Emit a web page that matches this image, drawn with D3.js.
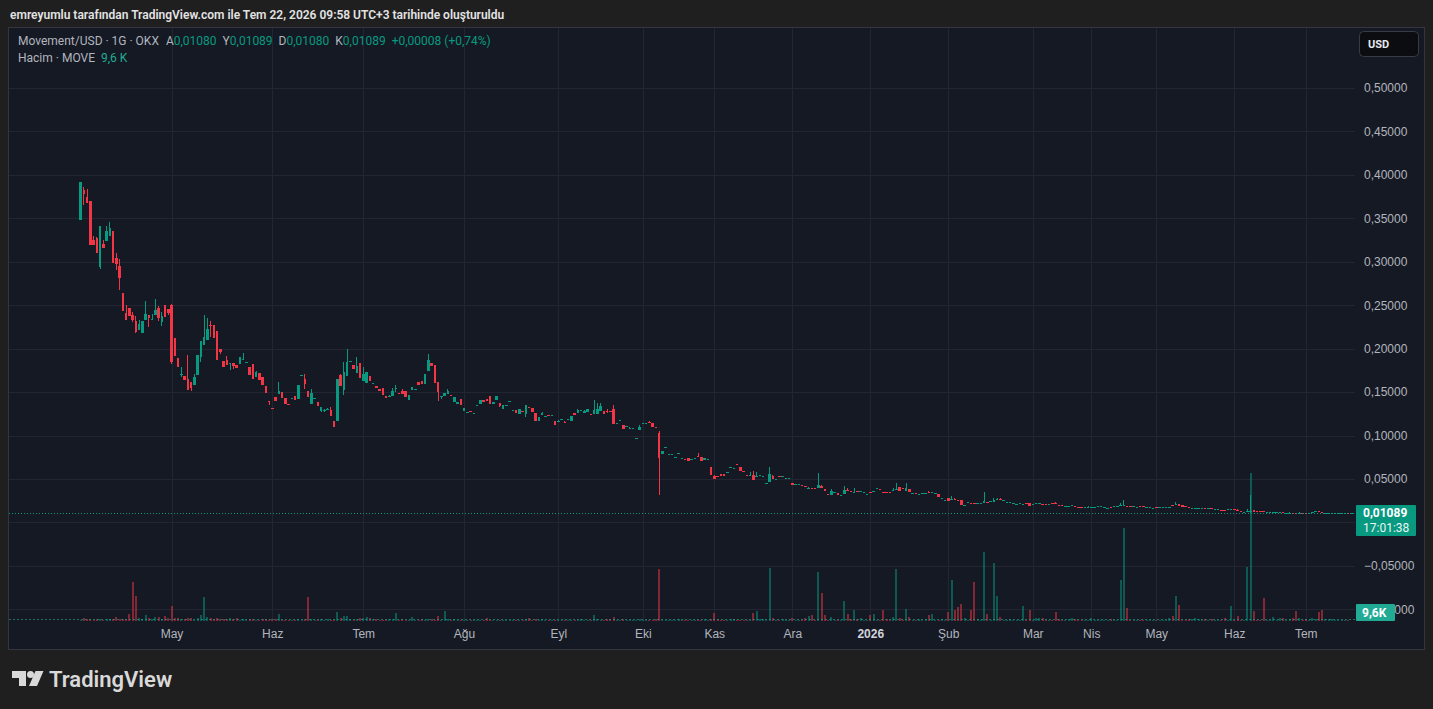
<!DOCTYPE html>
<html>
<head>
<meta charset="utf-8">
<script src="https://cdn.jsdelivr.net/npm/d3@7"></script>
<style>
  body { margin: 0; background: #1f1f1f; }
  svg { display: block; font-family: Roboto, "Liberation Sans", sans-serif; }
</style>
</head>
<body>
<svg id="chart" width="1433" height="709"></svg>
<script>
// header texts
const TITLE = 'emreyumlu tarafından TradingView.com ile Tem 22, 2026 09:58 UTC+3 tarihinde oluşturuldu';
const SYMBOL = 'Movement/USD · 1G · OKX';
const VOLUME_NAME = 'Hacim · MOVE';
const COUNTDOWN = '17:01:38';

// x axis: month labels and the bar they start on
const monthLabels = ['May', 'Haz', 'Tem', 'Ağu', 'Eyl', 'Eki', 'Kas', 'Ara', '2026', 'Şub', 'Mar', 'Nis', 'May', 'Haz', 'Tem'];
const monthBars = [28, 59, 87, 118, 147, 173, 195, 219, 243, 267, 293, 311, 331, 355, 377];

// y axis ticks (USD)
const priceTicks = [-0.10, -0.05, 0, 0.05, 0.10, 0.15, 0.20, 0.25, 0.30, 0.35, 0.40, 0.45, 0.50];

// daily candles, USD
const opens = [
  .3480,.3825,.3745,.3699,.3250,.3273,.2939,.3204,.3239,.3296,
  .3354,.3043,.2951,.2640,.2410,.2468,.2387,.2318,.2215,.2180,
  .2330,.2387,.2341,.2387,.2468,.2307,.2502,.2456,.2502,.2122,
  .1892,.1708,.1685,.1651,.1616,.1582,.1697,.1904,.2042,.2099,
  .2272,.2272,.2203,.1996,.1858,.1869,.1835,.1835,.1812,.1823,
  .1881,.1846,.1789,.1823,.1674,.1720,.1674,.1570,.1397,.1317,
  .1443,.1478,.1501,.1432,.1363,.1432,.1455,.1420,.1697,.1651,
  .1512,.1363,.1432,.1386,.1282,.1294,.1294,.1294,.1167,.1167,
  .1697,.1524,.1685,.1846,.1812,.1720,.1835,.1628,.1605,.1685,
  .1605,.1570,.1536,.1547,.1455,.1443,.1455,.1547,.1489,.1512,
  .1512,.1409,.1524,.1536,.1616,.1628,.1593,.1743,.1835,.1812,
  .1616,.1443,.1455,.1478,.1466,.1386,.1363,.1420,.1282,.1259,
  .1282,.1248,.1340,.1363,.1409,.1420,.1455,.1363,.1409,.1374,
  .1305,.1351,.1397,.1294,.1294,.1248,.1282,.1248,.1328,.1317,
  .1259,.1167,.1236,.1225,.1236,.1236,.1167,.1155,.1190,.1155,
  .1190,.1167,.1259,.1259,.1294,.1259,.1271,.1248,.1248,.1248,
  .1282,.1282,.1282,.1282,.1305,.1144,.1178,.1121,.1110,.1087,
  .1087,.0972,.1064,.1144,.1144,.1155,.1144,.1098,.1029,.0787,
  .0868,.0787,.0787,.0753,.0799,.0741,.0730,.0741,.0730,.0741,
  .0764,.0753,.0718,.0730,.0638,.0534,.0534,.0557,.0557,.0580,
  .0638,.0626,.0672,.0638,.0592,.0546,.0546,.0546,.0534,.0546,
  .0534,.0454,.0465,.0534,.0500,.0534,.0534,.0511,.0511,.0454,
  .0442,.0442,.0431,.0419,.0396,.0396,.0396,.0396,.0419,.0385,
  .0327,.0316,.0350,.0339,.0316,.0327,.0373,.0362,.0350,.0362,
  .0362,.0350,.0327,.0350,.0362,.0396,.0385,.0350,.0350,.0350,
  .0373,.0385,.0408,.0396,.0362,.0385,.0339,.0339,.0327,.0339,
  .0339,.0350,.0350,.0339,.0327,.0281,.0258,.0281,.0270,.0270,
  .0258,.0258,.0201,.0235,.0224,.0224,.0224,.0224,.0224,.0235,
  .0247,.0235,.0270,.0270,.0258,.0235,.0235,.0224,.0212,.0224,
  .0212,.0224,.0224,.0212,.0224,.0224,.0212,.0212,.0212,.0224,
  .0224,.0201,.0201,.0189,.0189,.0201,.0189,.0177,.0177,.0177,
  .0177,.0177,.0177,.0189,.0189,.0177,.0166,.0177,.0189,.0189,
  .0201,.0201,.0189,.0189,.0189,.0177,.0189,.0189,.0177,.0177,
  .0166,.0177,.0177,.0177,.0177,.0177,.0201,.0212,.0212,.0201,
  .0189,.0177,.0166,.0166,.0166,.0166,.0166,.0166,.0166,.0155,
  .0155,.0143,.0143,.0155,.0155,.0155,.0143,.0132,.0120,.0132,
  .0120,.0143,.0132,.0132,.0132,.0120,.0120,.0120,.0120,.0120,
  .0120,.0109,.0109,.0110,.0110,.0109,.0110,.0110,.0109,.0120,
  .0132,.0132,.0120,.0109,.0109,.0109,.0109,.0109,.0109,.0109,
  .0110,.01080
];
const highs = [
  .3917,.3860,.3837,.3699,.3296,.3285,.3411,.3250,.3411,.3457,
  .3354,.3101,.3031,.2640,.2502,.2468,.2422,.2376,.2330,.2318,
  .2548,.2387,.2399,.2571,.2491,.2422,.2502,.2456,.2514,.2122,
  .1892,.1789,.1685,.1927,.1616,.1708,.1927,.2088,.2387,.2353,
  .2318,.2272,.2203,.1996,.1858,.1915,.1836,.1835,.1812,.1904,
  .1950,.1847,.1789,.1823,.1743,.1720,.1674,.1570,.1397,.1317,
  .1443,.1616,.1501,.1432,.1363,.1433,.1455,.1582,.1698,.1708,
  .1512,.1536,.1433,.1386,.1328,.1305,.1317,.1328,.1167,.1651,
  .1708,.1846,.1996,.1858,.1812,.1904,.1835,.1789,.1731,.1685,
  .1606,.1570,.1536,.1547,.1455,.1466,.1547,.1582,.1489,.1536,
  .1512,.1466,.1559,.1537,.1616,.1628,.1708,.1938,.1835,.1812,
  .1616,.1455,.1489,.1536,.1466,.1443,.1386,.1420,.1317,.1271,
  .1282,.1259,.1351,.1409,.1409,.1420,.1455,.1386,.1455,.1374,
  .1351,.1352,.1398,.1295,.1294,.1305,.1282,.1351,.1328,.1317,
  .1259,.1213,.1271,.1226,.1236,.1237,.1167,.1178,.1191,.1167,
  .1191,.1225,.1259,.1305,.1295,.1294,.1305,.1248,.1409,.1374,
  .1374,.1282,.1305,.1282,.1351,.1145,.1179,.1121,.1111,.1098,
  .1088,.0973,.1121,.1145,.1145,.1167,.1144,.1098,.1052,.0822,
  .0869,.0788,.0788,.0754,.0800,.0742,.0730,.0741,.0731,.0742,
  .0799,.0753,.0741,.0731,.0638,.0546,.0534,.0557,.0557,.0581,
  .0639,.0627,.0672,.0638,.0592,.0546,.0580,.0592,.0580,.0547,
  .0535,.0455,.0638,.0546,.0501,.0534,.0535,.0512,.0512,.0454,
  .0443,.0443,.0431,.0419,.0408,.0396,.0396,.0569,.0431,.0385,
  .0327,.0385,.0351,.0339,.0317,.0419,.0396,.0362,.0396,.0362,
  .0363,.0351,.0328,.0350,.0363,.0397,.0385,.0350,.0350,.0350,
  .0396,.0454,.0408,.0396,.0454,.0385,.0340,.0339,.0328,.0340,
  .0340,.0362,.0351,.0340,.0327,.0282,.0259,.0281,.0304,.0281,
  .0258,.0258,.0202,.0236,.0224,.0224,.0225,.0225,.0350,.0235,
  .0248,.0281,.0281,.0281,.0259,.0236,.0236,.0225,.0213,.0225,
  .0213,.0224,.0224,.0213,.0225,.0225,.0212,.0212,.0213,.0224,
  .0235,.0201,.0201,.0190,.0190,.0202,.0189,.0177,.0177,.0178,
  .0189,.0178,.0178,.0190,.0190,.0178,.0167,.0177,.0190,.0190,
  .0224,.0258,.0189,.0189,.0190,.0178,.0189,.0189,.0178,.0178,
  .0167,.0177,.0178,.0178,.0178,.0178,.0201,.0235,.0212,.0201,
  .0189,.0177,.0167,.0167,.0167,.0167,.0166,.0167,.0166,.0156,
  .0156,.0143,.0143,.0156,.0156,.0155,.0155,.0132,.0121,.0155,
  .0316,.0143,.0132,.0132,.0132,.0121,.0121,.0121,.0121,.0121,
  .0120,.0110,.0120,.0110,.0110,.0120,.0110,.0110,.0110,.0121,
  .0133,.0132,.0120,.0110,.0110,.0110,.0110,.0110,.0110,.0110,
  .0110,.01089
];
const lows = [
  .3480,.3653,.3676,.3193,.3193,.3101,.2916,.3158,.3239,.3296,
  .2985,.2905,.2675,.2433,.2330,.2376,.2307,.2180,.2215,.2180,
  .2330,.2249,.2341,.2387,.2318,.2261,.2364,.2387,.1823,.1915,
  .1789,.1674,.1639,.1524,.1512,.1582,.1697,.1846,.2042,.2099,
  .2134,.2122,.1869,.1938,.1789,.1812,.1754,.1766,.1777,.1823,
  .1881,.1846,.1697,.1651,.1674,.1639,.1582,.1489,.1351,.1305,
  .1397,.1478,.1432,.1363,.1351,.1432,.1409,.1420,.1697,.1536,
  .1443,.1363,.1432,.1340,.1271,.1271,.1294,.1225,.1098,.1167,
  .1570,.1466,.1685,.1846,.1766,.1720,.1662,.1628,.1605,.1628,
  .1605,.1547,.1512,.1466,.1432,.1443,.1455,.1501,.1478,.1478,
  .1443,.1409,.1524,.1536,.1582,.1593,.1593,.1743,.1800,.1605,
  .1397,.1420,.1455,.1478,.1455,.1386,.1363,.1351,.1282,.1259,
  .1271,.1248,.1340,.1363,.1386,.1397,.1363,.1363,.1409,.1328,
  .1305,.1351,.1397,.1294,.1259,.1248,.1281,.1213,.1317,.1271,
  .1167,.1167,.1236,.1225,.1235,.1236,.1121,.1155,.1190,.1144,
  .1190,.1167,.1236,.1259,.1294,.1259,.1271,.1247,.1248,.1248,
  .1282,.1248,.1259,.1281,.1133,.1144,.1178,.1075,.1110,.1087,
  .1087,.0972,.1064,.1144,.1144,.1144,.1098,.1097,.0316,.0787,
  .0868,.0787,.0787,.0753,.0799,.0741,.0729,.0707,.0730,.0741,
  .0753,.0707,.0718,.0730,.0546,.0500,.0533,.0534,.0534,.0580,
  .0638,.0626,.0671,.0592,.0591,.0545,.0546,.0488,.0534,.0546,
  .0534,.0454,.0465,.0500,.0500,.0533,.0534,.0511,.0511,.0431,
  .0442,.0442,.0430,.0418,.0396,.0395,.0395,.0396,.0396,.0362,
  .0326,.0316,.0350,.0316,.0316,.0327,.0362,.0350,.0350,.0361,
  .0362,.0350,.0327,.0349,.0362,.0396,.0384,.0349,.0349,.0349,
  .0373,.0385,.0362,.0395,.0362,.0350,.0339,.0338,.0327,.0339,
  .0339,.0349,.0350,.0339,.0293,.0281,.0258,.0247,.0270,.0269,
  .0257,.0201,.0201,.0235,.0223,.0223,.0224,.0224,.0224,.0234,
  .0247,.0235,.0258,.0258,.0258,.0235,.0235,.0224,.0212,.0224,
  .0212,.0223,.0189,.0212,.0224,.0224,.0211,.0211,.0212,.0223,
  .0223,.0200,.0200,.0189,.0189,.0201,.0188,.0176,.0176,.0177,
  .0177,.0177,.0177,.0189,.0189,.0177,.0166,.0176,.0189,.0189,
  .0201,.0201,.0188,.0188,.0189,.0177,.0188,.0188,.0177,.0177,
  .0166,.0176,.0177,.0177,.0177,.0177,.0200,.0212,.0189,.0177,
  .0188,.0176,.0166,.0166,.0166,.0166,.0155,.0166,.0165,.0155,
  .0155,.0142,.0142,.0155,.0155,.0143,.0132,.0131,.0120,.0132,
  .0109,.0120,.0131,.0131,.0131,.0120,.0120,.0120,.0120,.0120,
  .0109,.0109,.0109,.0109,.0109,.0109,.0109,.0109,.0109,.0120,
  .0132,.0131,.0119,.0109,.0109,.0109,.0109,.0109,.0109,.0109,
  .01081,.01080
];
const closes = [
  .3917,.3779,.3676,.3193,.3193,.3101,.3411,.3158,.3354,.3388,
  .2985,.2974,.2813,.2433,.2330,.2376,.2330,.2191,.2284,.2318,
  .2399,.2353,.2342,.2445,.2353,.2376,.2364,.2410,.1846,.1915,
  .1789,.1709,.1639,.1524,.1547,.1674,.1927,.2088,.2134,.2226,
  .2261,.2122,.1869,.1961,.1789,.1812,.1836,.1800,.1777,.1904,
  .1882,.1847,.1697,.1651,.1731,.1639,.1582,.1489,.1386,.1305,
  .1397,.1512,.1432,.1363,.1351,.1433,.1409,.1582,.1698,.1593,
  .1443,.1489,.1433,.1340,.1328,.1295,.1305,.1225,.1098,.1651,
  .1570,.1731,.1846,.1858,.1766,.1800,.1662,.1708,.1731,.1628,
  .1606,.1547,.1512,.1466,.1432,.1455,.1512,.1548,.1478,.1478,
  .1443,.1466,.1559,.1537,.1582,.1593,.1708,.1869,.1800,.1605,
  .1501,.1455,.1489,.1512,.1455,.1443,.1386,.1351,.1317,.1271,
  .1271,.1259,.1351,.1409,.1386,.1397,.1363,.1386,.1455,.1340,
  .1351,.1352,.1398,.1295,.1259,.1305,.1281,.1351,.1317,.1271,
  .1167,.1213,.1259,.1226,.1235,.1237,.1121,.1167,.1191,.1144,
  .1191,.1225,.1236,.1294,.1295,.1282,.1305,.1247,.1294,.1305,
  .1340,.1248,.1271,.1281,.1133,.1145,.1179,.1075,.1111,.1088,
  .1088,.0973,.1098,.1145,.1145,.1144,.1098,.1097,.0741,.0822,
  .0869,.0788,.0788,.0754,.0800,.0742,.0729,.0707,.0731,.0742,
  .0753,.0707,.0741,.0731,.0546,.0500,.0533,.0534,.0534,.0581,
  .0639,.0627,.0671,.0592,.0591,.0545,.0547,.0488,.0535,.0547,
  .0535,.0455,.0557,.0500,.0501,.0533,.0535,.0512,.0512,.0431,
  .0443,.0443,.0430,.0418,.0397,.0395,.0395,.0431,.0396,.0362,
  .0326,.0362,.0351,.0316,.0317,.0373,.0362,.0350,.0351,.0361,
  .0363,.0351,.0328,.0349,.0363,.0397,.0384,.0349,.0349,.0349,
  .0374,.0386,.0362,.0395,.0396,.0350,.0340,.0338,.0328,.0340,
  .0340,.0349,.0351,.0340,.0293,.0282,.0259,.0247,.0271,.0269,
  .0257,.0201,.0202,.0236,.0223,.0223,.0225,.0225,.0247,.0234,
  .0248,.0258,.0271,.0258,.0259,.0236,.0236,.0225,.0213,.0225,
  .0213,.0223,.0189,.0213,.0225,.0225,.0211,.0211,.0213,.0223,
  .0223,.0200,.0200,.0190,.0190,.0202,.0188,.0176,.0176,.0178,
  .0178,.0178,.0178,.0190,.0190,.0178,.0167,.0176,.0190,.0190,
  .0202,.0202,.0188,.0188,.0190,.0178,.0188,.0188,.0178,.0178,
  .0167,.0176,.0178,.0178,.0178,.0178,.0200,.0213,.0189,.0177,
  .0188,.0176,.0167,.0167,.0167,.0167,.0155,.0167,.0165,.0156,
  .0156,.0142,.0142,.0156,.0156,.0143,.0132,.0131,.0121,.0133,
  .0132,.0120,.0131,.0131,.0131,.0121,.0121,.0121,.0121,.0121,
  .0109,.0110,.0110,.0109,.0109,.0110,.0109,.0109,.0110,.0121,
  .0133,.0131,.0119,.0110,.0110,.0110,.0110,.0110,.0110,.0110,
  .01081,.01089
];
// daily volume, millions of MOVE
const volumes = [
  1,3,2,2,1,2,2,1,2,2,
  2,4,2,2,2,7,39,25,3,2,
  6,3,2,4,4,2,5,3,15,3,
  3,2,2,3,3,1,3,6,24,4,
  3,2,3,2,2,2,3,2,3,1,
  2,1,2,2,1,1,2,2,1,2,
  2,7,1,1,1,1,1,2,1,2,
  24,2,1,1,2,1,2,1,1,9,
  3,5,5,2,1,2,3,3,4,3,
  2,2,1,1,1,2,2,8,1,2,
  1,1,4,1,1,2,1,2,2,1,
  5,1,10,2,1,2,1,1,1,1,
  1,1,1,1,1,3,1,1,1,1,
  1,1,1,1,1,1,1,2,3,1,
  2,1,2,1,1,1,1,1,1,1,
  1,1,1,1,2,1,1,1,6,2,
  1,1,2,2,4,1,1,2,1,1,
  1,1,2,1,1,1,1,2,52,1,
  1,1,1,1,2,1,1,1,1,1,
  1,1,2,1,2,8,2,1,1,1,
  2,2,1,1,1,1,1,8,10,2,
  2,1,53,3,1,1,2,1,1,3,
  1,1,1,3,5,6,1,49,28,6,
  1,4,1,1,1,20,7,2,11,2,
  3,1,1,6,7,1,1,11,2,1,
  4,52,3,1,12,4,1,1,2,1,
  2,6,7,1,1,2,1,9,41,11,
  14,17,3,1,11,39,2,1,69,7,
  1,58,25,4,1,1,2,1,1,1,
  15,1,11,1,3,3,3,1,1,1,
  9,2,1,1,2,3,2,1,1,1,
  1,3,1,1,1,1,1,2,1,1,
  41,93,13,1,1,1,1,1,1,1,
  1,1,1,1,1,3,5,25,16,1,
  1,2,2,3,2,1,2,1,2,1,
  1,1,3,1,15,1,5,1,1,54,
  148,10,1,1,23,1,1,4,1,3,
  3,1,2,3,10,3,1,2,1,3,
  2,9,11,2,2,2,1,1,1,1,
  1,0.0096
];

const UP = '#089981';
const DOWN = '#f23645';
const UP_VOL = 'rgba(8,153,129,0.5)';
const DOWN_VOL = 'rgba(242,54,69,0.5)';
const TEXT = '#b2b5be';

draw();

function draw() {
  const svg = d3.select('#chart');
  const n = closes.length;
  const plot = { left: 9, right: 1355, top: 28, bottom: 622 };

  const locale = d3.formatLocale({ decimal: ',', thousands: '.', grouping: [3], currency: ['', ''], minus: '\u2212' });
  const fmtPrice = locale.format('.5f');
  const fmtChange = locale.format('+.5f');
  const fmtPct = locale.format('+.2f');
  const fmtVol = v => locale.format('.1f')(v * 1000) + ' K';

  // bar index scale, 3.25 px per day
  const x = d3.scaleLinear().domain([0, n - 1]).range([80.5, 80.5 + 3.25 * (n - 1)]);
  const y = d3.scaleLinear().domain([-0.10, 0.50]).range([609.3, 88]);
  const yVol = d3.scaleLinear().domain([0, d3.max(volumes)]).range([621, 473]);

  const bars = d3.range(n).map(i => ({
    i: i, o: opens[i], h: highs[i], l: lows[i], c: closes[i], v: volumes[i],
    up: closes[i] >= opens[i]
  }));
  const last = bars[n - 1];
  const prev = bars[n - 2];
  const py = Math.round(y(last.c));

  /*
    Frame and title
  */
  svg.append('text')
    .attr('x', 10).attr('y', 19)
    .attr('fill', '#e3e3e3')
    .attr('font-size', 12).attr('font-weight', 600)
    .text(TITLE);

  svg.append('rect')
    .attr('x', 8.5).attr('y', 27.5)
    .attr('width', 1416).attr('height', 622)
    .attr('fill', '#151923').attr('stroke', '#33363f');

  const defs = svg.append('defs');
  defs.append('clipPath').attr('id', 'plotClip')
    .append('rect')
      .attr('x', plot.left).attr('y', plot.top)
      .attr('width', plot.right - plot.left).attr('height', plot.bottom - plot.top);

  // grid
  const grid = svg.append('g').attr('stroke', '#232632').attr('shape-rendering', 'crispEdges');
  grid.selectAll('line.h')
    .data(priceTicks)
    .join('line')
      .attr('class', 'h')
      .attr('x1', plot.left).attr('x2', plot.right)
      .attr('y1', d => Math.round(y(d)) + 0.5).attr('y2', d => Math.round(y(d)) + 0.5);
  grid.selectAll('line.v')
    .data(monthBars)
    .join('line')
      .attr('class', 'v')
      .attr('y1', plot.top).attr('y2', plot.bottom)
      .attr('x1', d => Math.round(x(d)) + 0.5).attr('x2', d => Math.round(x(d)) + 0.5);

  const pane = svg.append('g').attr('clip-path', 'url(#plotClip)');

  /*
    Volume bars
  */
  pane.append('g')
    .attr('shape-rendering', 'crispEdges')
    .selectAll('rect')
    .data(bars)
    .join('rect')
      .attr('x', d => x(d.i) - 1)
      .attr('width', 2)
      .attr('y', d => yVol(d.v))
      .attr('height', d => yVol(0) - yVol(d.v))
      .attr('fill', d => d.up ? UP_VOL : DOWN_VOL);

  /*
    Candles
  */
  const candles = pane.append('g')
    .attr('shape-rendering', 'crispEdges')
    .selectAll('g')
    .data(bars)
    .join('g')
      .attr('fill', d => d.up ? UP : DOWN);

  candles.append('rect')
    .attr('x', d => x(d.i) - 0.5)
    .attr('width', 1)
    .attr('y', d => y(Math.max(d.h, d.o, d.c)))
    .attr('height', d => Math.max(1, y(Math.min(d.l, d.o, d.c)) - y(Math.max(d.h, d.o, d.c))));

  candles.append('rect')
    .attr('x', d => x(d.i) - 1.25)
    .attr('width', 2.5)
    .attr('y', d => y(Math.max(d.o, d.c)))
    .attr('height', d => Math.max(1, Math.abs(y(d.o) - y(d.c))));

  // last price and last volume lines
  pane.append('line')
    .attr('x1', plot.left).attr('x2', plot.right)
    .attr('y1', py + 0.5).attr('y2', py + 0.5)
    .attr('stroke', UP).attr('stroke-dasharray', '1,2');
  pane.append('line')
    .attr('x1', plot.left).attr('x2', plot.right)
    .attr('y1', Math.round(yVol(last.v)) - 1.5).attr('y2', Math.round(yVol(last.v)) - 1.5)
    .attr('stroke', '#26a69a').attr('stroke-opacity', 0.6).attr('stroke-dasharray', '2,2');

  /*
    Axes
  */
  const yAxis = svg.append('g')
    .attr('transform', `translate(${plot.right},0)`)
    .call(d3.axisRight(y).tickValues(priceTicks).tickFormat(fmtPrice).tickSize(0).tickPadding(9));
  yAxis.select('.domain').remove();
  yAxis.selectAll('text')
    .attr('fill', TEXT).attr('font-size', 12).attr('font-family', null);
  // the last price label hides the tick label it sits on
  yAxis.selectAll('.tick')
    .filter(d => Math.abs(y(d) - (py + 8)) < 16)
    .remove();

  const xAxis = svg.append('g')
    .attr('transform', `translate(0,${plot.bottom})`)
    .call(d3.axisBottom(x).tickValues(monthBars).tickFormat((d, i) => monthLabels[i]).tickSize(0).tickPadding(7));
  xAxis.select('.domain').remove();
  xAxis.selectAll('text')
    .attr('fill', (d, i) => /^\d+$/.test(monthLabels[i]) ? '#d1d4dc' : TEXT)
    .attr('font-weight', (d, i) => /^\d+$/.test(monthLabels[i]) ? 700 : 400)
    .attr('font-size', 12).attr('font-family', null);

  /*
    Price and volume labels on the axis
  */
  svg.append('rect')
    .attr('x', 1356).attr('y', py - 8)
    .attr('width', 60).attr('height', 31).attr('rx', 1)
    .attr('fill', UP);
  svg.append('text')
    .attr('x', 1363).attr('y', py + 4)
    .attr('fill', '#ffffff').attr('font-size', 12).attr('font-weight', 700)
    .text(fmtPrice(last.c));
  svg.append('text')
    .attr('x', 1363).attr('y', py + 19)
    .attr('fill', '#e8f5f2').attr('font-size', 12)
    .text(COUNTDOWN);

  const vTop = Math.min(yVol(last.v) - 8, 621 - 17);
  svg.append('rect')
    .attr('x', 1356).attr('y', vTop)
    .attr('width', 39).attr('height', 17).attr('rx', 1)
    .attr('fill', '#22ab94');
  svg.append('text')
    .attr('x', 1362).attr('y', vTop + 13)
    .attr('fill', '#ffffff').attr('font-size', 12).attr('font-weight', 700)
    .text(fmtVol(last.v).replace(' ', ''));

  // currency button
  svg.append('rect')
    .attr('x', 1359.5).attr('y', 31.5)
    .attr('width', 59).attr('height', 25).attr('rx', 4)
    .attr('fill', '#0c0d10').attr('stroke', '#3a3c44');
  svg.append('text')
    .attr('x', 1368).attr('y', 48)
    .attr('fill', '#e6e8ee').attr('font-size', 11).attr('font-weight', 700)
    .text('USD');

  /*
    Legend
  */
  const legend = svg.append('text')
    .attr('x', 18).attr('y', 45)
    .attr('font-size', 12).attr('fill', TEXT);
  legend.append('tspan').text(SYMBOL);
  [['A', last.o], ['Y', last.h], ['D', last.l], ['K', last.c]].forEach((p, k) => {
    legend.append('tspan').attr('dx', k === 0 ? 7 : 6).text(p[0]);
    legend.append('tspan').attr('fill', UP).text(fmtPrice(p[1]));
  });
  const change = last.c - prev.c;
  legend.append('tspan').attr('dx', 6).attr('fill', UP)
    .text(`${fmtChange(change)} (${fmtPct(change / prev.c * 100)}%)`);

  const volLegend = svg.append('text')
    .attr('x', 18).attr('y', 62)
    .attr('font-size', 12).attr('fill', TEXT);
  volLegend.append('tspan').text(VOLUME_NAME);
  volLegend.append('tspan').attr('dx', 6).attr('fill', '#22ab94').text(fmtVol(last.v));

  /*
    TradingView mark
  */
  const logo = svg.append('g').attr('fill', '#d9d9d9');
  logo.append('path').attr('d', 'M12,671 h14 v15 h-7 v-8 h-7 z');
  logo.append('circle').attr('cx', 30.5).attr('cy', 674.5).attr('r', 3.5);
  logo.append('path').attr('d', 'M35.5,671 h8 l-6.5,15 h-8 z');
  logo.append('text')
    .attr('x', 49).attr('y', 686.5)
    .attr('font-size', 22).attr('font-weight', 600)
    .text('TradingView');
}
</script>
</body>
</html>
